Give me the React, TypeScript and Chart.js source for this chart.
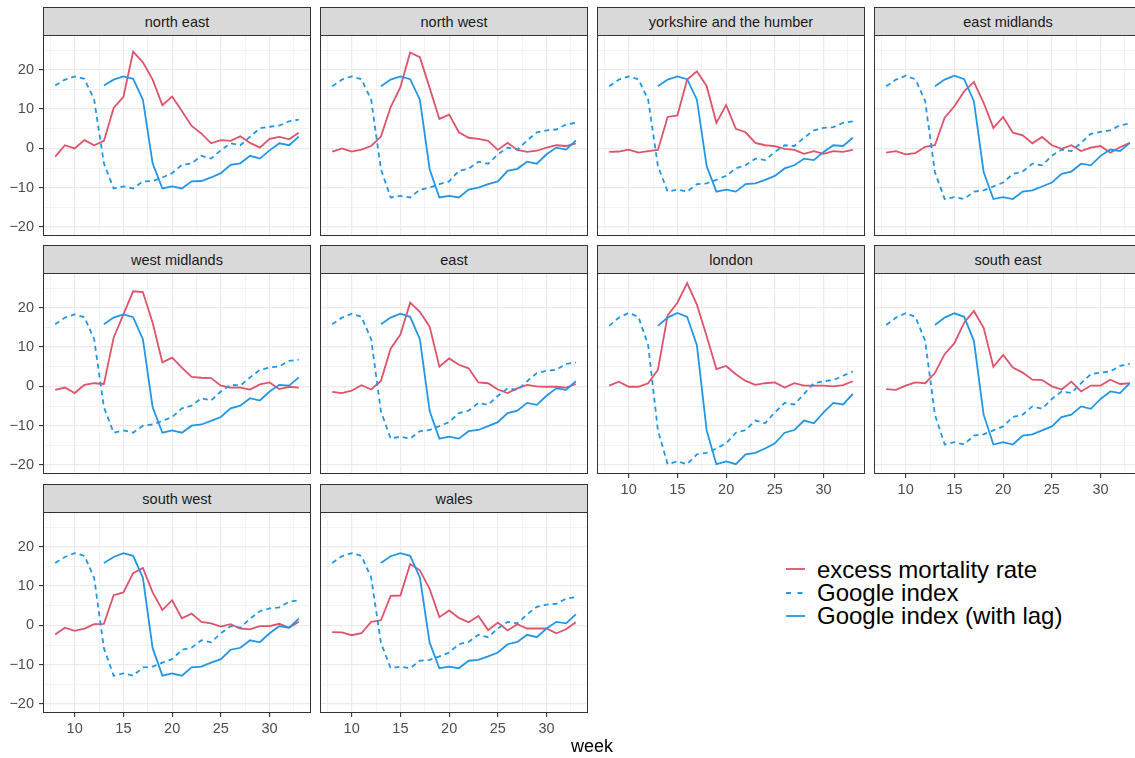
import React, { useEffect, useRef } from "react";
import { Chart, registerables } from "chart.js";

Chart.register(...registerables);

// ---------- data ----------
const WEEKS = [8, 9, 10, 11, 12, 13, 14, 15, 16, 17, 18, 19, 20, 21, 22, 23, 24, 25, 26, 27, 28, 29, 30, 31, 32, 33];
const LAG_WEEKS = [13, 14, 15, 16, 17, 18, 19, 20, 21, 22, 23, 24, 25, 26, 27, 28, 29, 30, 31, 32, 33];

const REGIONS = [
  "north east",
  "north west",
  "yorkshire and the humber",
  "east midlands",
  "west midlands",
  "east",
  "london",
  "south east",
  "south west",
  "wales",
];

const SERIES_NAMES = ["excess mortality rate", "Google index", "Google index (with lag)"];

const EXCESS_NORTH_EAST = [-2.1, 0.8, 0, 2.1, 0.8, 1.9, 10.3, 13.1, 24.6, 21.9, 17.5, 11.0, 13.2, 9.5, 5.7, 3.8, 1.3, 2.1, 1.9, 3.1, 1.4, 0.2, 2.4, 2.9, 2.3, 4.0];
const GOOGLE_NORTH_EAST = [16.0, 17.5, 18.3, 17.7, 12.4, -3.8, -10.2, -9.7, -10.2, -8.4, -8.3, -7.4, -6.3, -4.2, -3.8, -1.9, -2.6, -0.5, 1.3, 0.8, 3.0, 5.1, 5.5, 5.8, 6.9, 7.3];
const LAG_NORTH_EAST = [16.0, 17.5, 18.3, 17.7, 12.4, -3.8, -10.2, -9.7, -10.2, -8.4, -8.3, -7.4, -6.3, -4.2, -3.8, -1.9, -2.6, -0.5, 1.3, 0.8, 3.0];

const EXCESS_NORTH_WEST = [-0.8, 0, -0.8, -0.3, 0.6, 3.0, 10.5, 15.6, 24.4, 23.2, 15.4, 7.5, 8.6, 4.1, 2.7, 2.4, 1.9, -0.4, 1.4, -0.4, -0.9, -0.6, 0.2, 0.8, 0.6, 1.3];
const GOOGLE_NORTH_WEST = [15.8, 17.5, 18.3, 17.6, 12.4, -5.3, -12.5, -12.1, -12.5, -10.5, -10.0, -9.1, -8.4, -5.7, -5.2, -3.4, -3.9, -1.5, 0.2, -0.3, 2.0, 4.1, 4.6, 4.8, 6.1, 6.5];
const LAG_NORTH_WEST = [15.8, 17.5, 18.3, 17.6, 12.4, -5.3, -12.5, -12.1, -12.5, -10.5, -10.0, -9.1, -8.4, -5.7, -5.2, -3.4, -3.9, -1.5, 0.2, -0.3, 2.0];

const EXCESS_YORKSHIRE = [-0.9, -0.8, -0.3, -1.1, -0.7, -0.4, 8.0, 8.4, 17.5, 19.6, 15.9, 6.5, 11.0, 5.0, 4.1, 1.4, 0.8, 0.6, -0.1, -0.4, -1.4, -0.7, -1.4, -0.7, -0.9, -0.4];
const GOOGLE_YORKSHIRE = [15.8, 17.5, 18.3, 17.6, 12.4, -4.5, -11.0, -10.5, -11.0, -9.1, -8.9, -8.0, -7.0, -5.1, -4.3, -2.6, -3.0, -0.9, 0.8, 0.6, 2.7, 4.6, 5.2, 5.4, 6.5, 6.9];
const LAG_YORKSHIRE = [15.8, 17.5, 18.3, 17.6, 12.4, -4.5, -11.0, -10.5, -11.0, -9.1, -8.9, -8.0, -7.0, -5.1, -4.3, -2.6, -3.0, -0.9, 0.8, 0.6, 2.7];

const EXCESS_EAST_MIDLANDS = [-1.1, -0.7, -1.5, -1.2, 0.4, 0.8, 7.8, 10.7, 14.5, 16.9, 11.6, 5.2, 8.0, 4.0, 3.3, 1.3, 2.9, 0.8, -0.1, 0.8, -0.7, 0.2, 0.6, -1.1, 0.3, 1.4];
const GOOGLE_EAST_MIDLANDS = [15.8, 17.5, 18.5, 17.6, 12.0, -6.0, -12.9, -12.4, -12.9, -11.0, -10.7, -9.7, -8.7, -6.5, -5.9, -3.9, -4.3, -1.9, -0.3, -0.7, 1.4, 3.7, 4.2, 4.6, 5.9, 6.3];
const LAG_EAST_MIDLANDS = [15.8, 17.5, 18.5, 17.6, 12.0, -6.0, -12.9, -12.4, -12.9, -11.0, -10.7, -9.7, -8.7, -6.5, -5.9, -3.9, -4.3, -1.9, -0.3, -0.7, 1.4];

const EXCESS_WEST_MIDLANDS = [-0.9, -0.3, -1.7, 0.4, 0.8, 0.6, 12.4, 18.3, 24.2, 24.0, 16.2, 6.1, 7.3, 4.8, 2.4, 2.2, 2.1, 0.2, -0.3, -0.3, -0.8, 0.5, 1.0, -0.7, -0.1, -0.3];
const GOOGLE_WEST_MIDLANDS = [15.8, 17.5, 18.3, 17.6, 12.0, -5.3, -11.8, -11.2, -11.8, -10.0, -9.7, -8.8, -7.8, -5.6, -4.9, -3.0, -3.6, -1.3, 0.4, 0.2, 2.3, 4.2, 4.8, 5.1, 6.5, 6.8];
const LAG_WEST_MIDLANDS = [15.8, 17.5, 18.3, 17.6, 12.0, -5.3, -11.8, -11.2, -11.8, -10.0, -9.7, -8.8, -7.8, -5.6, -4.9, -3.0, -3.6, -1.3, 0.4, 0.2, 2.3];

const EXCESS_EAST = [-1.4, -1.7, -1.1, 0.3, -0.8, 1.4, 9.6, 13.2, 21.3, 19.0, 15.2, 5.0, 7.1, 5.5, 4.6, 1.0, 0.8, -0.8, -1.7, -0.5, 0.4, 0, -0.1, -0.1, -0.3, 0.6];
const GOOGLE_EAST = [15.8, 17.5, 18.5, 17.7, 12.0, -6.3, -13.3, -12.8, -13.3, -11.4, -11.1, -10.1, -9.1, -6.8, -6.2, -4.2, -4.7, -2.4, -0.5, -0.9, 1.3, 3.4, 4.0, 4.2, 5.7, 6.1];
const LAG_EAST = [15.8, 17.5, 18.5, 17.7, 12.0, -6.3, -13.3, -12.8, -13.3, -11.4, -11.1, -10.1, -9.1, -6.8, -6.2, -4.2, -4.7, -2.4, -0.5, -0.9, 1.3];

const EXCESS_LONDON = [0.2, 1.2, -0.1, -0.1, 0.8, 4.2, 18.1, 21.3, 26.3, 20.8, 12.8, 4.4, 5.2, 3.1, 1.4, 0.4, 0.8, 1.0, -0.3, 0.8, 0.2, 0.2, 0.2, 0, 0.3, 1.3];
const GOOGLE_LONDON = [15.4, 17.5, 18.7, 17.7, 10.5, -11.2, -19.8, -19.1, -19.8, -17.3, -16.9, -15.8, -14.5, -11.8, -11.1, -8.7, -9.4, -6.6, -4.2, -4.6, -1.9, 0.8, 1.3, 1.6, 2.7, 3.8];
const LAG_LONDON = [15.4, 17.5, 18.7, 17.7, 10.5, -11.2, -19.8, -19.1, -19.8, -17.3, -16.9, -15.8, -14.5, -11.8, -11.1, -8.7, -9.4, -6.6, -4.2, -4.6, -1.9];

const EXCESS_SOUTH_EAST = [-0.7, -0.9, 0.2, 1.0, 0.8, 3.4, 8.2, 11.0, 16.2, 19.2, 14.9, 5.0, 8.0, 4.8, 3.5, 1.7, 1.6, 0, -0.8, 1.2, -1.3, 0.2, 0.2, 1.7, 0.6, 0.8];
const GOOGLE_SOUTH_EAST = [15.6, 17.5, 18.6, 17.7, 11.6, -7.2, -14.8, -14.2, -14.8, -12.5, -12.2, -11.2, -10.2, -7.8, -7.2, -5.1, -5.7, -3.2, -1.3, -1.7, 0.8, 3.1, 3.5, 3.8, 5.2, 5.7];
const LAG_SOUTH_EAST = [15.6, 17.5, 18.6, 17.7, 11.6, -7.2, -14.8, -14.2, -14.8, -12.5, -12.2, -11.2, -10.2, -7.8, -7.2, -5.1, -5.7, -3.2, -1.3, -1.7, 0.8];

const EXCESS_SOUTH_WEST = [-2.3, -0.6, -1.4, -0.8, 0.3, 0.4, 7.7, 8.4, 13.3, 14.6, 8.4, 3.9, 6.4, 1.8, 3.0, 0.9, 0.5, -0.3, 0.3, -0.8, -1.0, -0.2, -0.2, 0.4, -0.6, 0.9];
const GOOGLE_SOUTH_WEST = [15.9, 17.4, 18.4, 17.7, 12.1, -5.8, -12.8, -12.2, -12.8, -10.7, -10.5, -9.5, -8.6, -6.2, -5.7, -3.8, -4.3, -2.0, -0.2, -0.6, 1.7, 3.6, 4.3, 4.6, 6.0, 6.4];
const LAG_SOUTH_WEST = [15.9, 17.4, 18.4, 17.7, 12.1, -5.8, -12.8, -12.2, -12.8, -10.7, -10.5, -9.5, -8.6, -6.2, -5.7, -3.8, -4.3, -2.0, -0.2, -0.6, 1.7];

const EXCESS_WALES = [-1.7, -1.8, -2.5, -2.0, 0.9, 1.3, 7.5, 7.6, 15.6, 14.0, 9.3, 2.1, 3.8, 1.9, 0.8, 2.4, -1.2, 0.7, -1.3, 0.3, -0.8, -0.8, -0.8, -2.0, -1.0, 0.8];
const GOOGLE_WALES = [15.9, 17.6, 18.4, 17.7, 12.2, -4.4, -10.9, -10.5, -10.9, -9.0, -8.8, -7.9, -6.9, -4.8, -4.2, -2.4, -3.0, -0.8, 0.9, 0.5, 2.8, 4.7, 5.3, 5.5, 6.8, 7.2];
const LAG_WALES = [15.9, 17.6, 18.4, 17.7, 12.2, -4.4, -10.9, -10.5, -10.9, -9.0, -8.8, -7.9, -6.9, -4.8, -4.2, -2.4, -3.0, -0.8, 0.9, 0.5, 2.8];

const X_BREAKS = [7.5, 10, 12.5, 15, 17.5, 20, 22.5, 25, 27.5, 30, 32.5];
const X_MAJOR = [10, 15, 20, 25, 30];
const X_TICK_LABELS = ["10", "15", "20", "25", "30"];
const Y_BREAKS = [-20, -15, -10, -5, 0, 5, 10, 15, 20, 25];
const Y_MAJOR = [-20, -10, 0, 10, 20];
const Y_TICK_LABELS = ["\u221220", "\u221210", "0", "10", "20"];

const X_TITLE = "week";

const PANELS = [
  { title: REGIONS[0], excess: EXCESS_NORTH_EAST, google: GOOGLE_NORTH_EAST, lag: LAG_NORTH_EAST },
  { title: REGIONS[1], excess: EXCESS_NORTH_WEST, google: GOOGLE_NORTH_WEST, lag: LAG_NORTH_WEST },
  { title: REGIONS[2], excess: EXCESS_YORKSHIRE, google: GOOGLE_YORKSHIRE, lag: LAG_YORKSHIRE },
  { title: REGIONS[3], excess: EXCESS_EAST_MIDLANDS, google: GOOGLE_EAST_MIDLANDS, lag: LAG_EAST_MIDLANDS },
  { title: REGIONS[4], excess: EXCESS_WEST_MIDLANDS, google: GOOGLE_WEST_MIDLANDS, lag: LAG_WEST_MIDLANDS },
  { title: REGIONS[5], excess: EXCESS_EAST, google: GOOGLE_EAST, lag: LAG_EAST },
  { title: REGIONS[6], excess: EXCESS_LONDON, google: GOOGLE_LONDON, lag: LAG_LONDON },
  { title: REGIONS[7], excess: EXCESS_SOUTH_EAST, google: GOOGLE_SOUTH_EAST, lag: LAG_SOUTH_EAST },
  { title: REGIONS[8], excess: EXCESS_SOUTH_WEST, google: GOOGLE_SOUTH_WEST, lag: LAG_SOUTH_WEST },
  { title: REGIONS[9], excess: EXCESS_WALES, google: GOOGLE_WALES, lag: LAG_WALES },
];

// ---------- style / layout ----------
const FONT = "'Liberation Sans', Arial, Helvetica, sans-serif";
const RED = "#DF536B";
const BLUE = "#2297E6";
const GRID = "#EBEBEB";
const DARK = "#333333";
const TICK_TEXT = "#4D4D4D";
const PLOT_W = 268;
const PLOT_H = 200;
const STRIP_H = 29;
const COL_PITCH = 277;
const FIRST_COL = 43;
const STRIP_TOPS = [7, 245, 484];
const Y_AXIS_W = 43;
const X_AXIS_H = 32;
const TICK_FONT = 14.5;
const LINE_W = 1.8;

type PanelProps = {
  title: string;
  excess: number[];
  google: number[];
  lag: number[];
  index: number;
};

function Panel({ title, excess, google, lag, index }: PanelProps) {
  const ref = useRef<HTMLCanvasElement | null>(null);
  const col = index % 4;
  const row = Math.floor(index / 4);
  const showY = col === 0;
  const showX = row === 2 || (row === 1 && col >= 2);
  const plotLeft = FIRST_COL + col * COL_PITCH;
  const stripTop = STRIP_TOPS[row];
  const plotTop = stripTop + STRIP_H;
  const axisW = showY ? Y_AXIS_W : 0;
  const axisH = showX ? X_AXIS_H : 0;
  const cw = PLOT_W + axisW;
  const ch = PLOT_H + axisH;

  useEffect(() => {
    const canvas = ref.current;
    if (!canvas) return;
    const isXMajor = (v: number) => X_MAJOR.indexOf(v) >= 0;
    const isYMajor = (v: number) => Y_MAJOR.indexOf(v) >= 0;
    const chart = new Chart(canvas, {
      type: "line",
      data: {
        datasets: [
          {
            label: SERIES_NAMES[2],
            data: LAG_WEEKS.map((w, i) => ({ x: w, y: lag[i] })),
            borderColor: BLUE,
            backgroundColor: BLUE,
            borderWidth: LINE_W,
            pointRadius: 0,
            tension: 0,
            fill: false,
          },
          {
            label: SERIES_NAMES[1],
            data: WEEKS.map((w, i) => ({ x: w, y: google[i] })),
            borderColor: BLUE,
            backgroundColor: BLUE,
            borderWidth: LINE_W,
            borderDash: [5, 4],
            pointRadius: 0,
            tension: 0,
            fill: false,
          },
          {
            label: SERIES_NAMES[0],
            data: WEEKS.map((w, i) => ({ x: w, y: excess[i] })),
            borderColor: RED,
            backgroundColor: RED,
            borderWidth: LINE_W,
            pointRadius: 0,
            tension: 0,
            fill: false,
          },
        ],
      },
      options: {
        animation: false,
        responsive: false,
        maintainAspectRatio: false,
        events: [],
        layout: { padding: 0 },
        plugins: { legend: { display: false }, tooltip: { enabled: false }, title: { display: false } },
        scales: {
          x: {
            type: "linear",
            min: 6.75,
            max: 34.25,
            afterBuildTicks: (s: any) => {
              s.ticks = X_BREAKS.map((v) => ({ value: v }));
            },
            afterFit: (s: any) => {
              s.height = axisH;
              s.paddingLeft = 0;
              s.paddingRight = 0;
              s.paddingTop = 0;
              s.paddingBottom = 0;
            },
            ticks: {
              display: showX,
              autoSkip: false,
              maxRotation: 0,
              minRotation: 0,
              padding: 3,
              color: TICK_TEXT,
              font: { family: FONT, size: TICK_FONT },
              callback: (v: any) => {
                const k = X_MAJOR.indexOf(Number(v));
                return k >= 0 ? X_TICK_LABELS[k] : "";
              },
            },
            grid: {
              color: GRID,
              lineWidth: (c: any) => (c.tick && isXMajor(c.tick.value) ? 1.2 : 0.6),
              drawTicks: showX,
              tickLength: 4,
              tickWidth: 1.1,
              tickColor: (c: any) => (c.tick && isXMajor(c.tick.value) ? DARK : "rgba(0,0,0,0)"),
            },
            border: { display: false },
          },
          y: {
            type: "linear",
            min: -22.3,
            max: 28.6,
            afterBuildTicks: (s: any) => {
              s.ticks = Y_BREAKS.map((v) => ({ value: v }));
            },
            afterFit: (s: any) => {
              s.width = axisW;
              s.paddingLeft = 0;
              s.paddingRight = 0;
              s.paddingTop = 0;
              s.paddingBottom = 0;
            },
            ticks: {
              display: showY,
              autoSkip: false,
              padding: 5,
              color: TICK_TEXT,
              font: { family: FONT, size: TICK_FONT },
              callback: (v: any) => {
                const k = Y_MAJOR.indexOf(Number(v));
                return k >= 0 ? Y_TICK_LABELS[k] : "";
              },
            },
            grid: {
              color: GRID,
              lineWidth: (c: any) => (c.tick && isYMajor(c.tick.value) ? 1.2 : 0.6),
              drawTicks: showY,
              tickLength: 4,
              tickWidth: 1.1,
              tickColor: (c: any) => (c.tick && isYMajor(c.tick.value) ? DARK : "rgba(0,0,0,0)"),
            },
            border: { display: false },
          },
        },
      } as any,
    });
    return () => chart.destroy();
  }, []);

  return (
    <>
      <canvas
        ref={ref}
        width={cw}
        height={ch}
        style={{ position: "absolute", left: plotLeft - axisW, top: plotTop, width: cw, height: ch, display: "block" }}
      />
      <div
        style={{
          position: "absolute",
          left: plotLeft,
          top: stripTop,
          width: PLOT_W,
          height: STRIP_H + PLOT_H,
          border: `1px solid ${DARK}`,
          boxSizing: "border-box",
          pointerEvents: "none",
        }}
      >
        <div
          style={{
            height: STRIP_H - 1,
            background: "#D9D9D9",
            borderBottom: `1px solid ${DARK}`,
            boxSizing: "border-box",
            display: "flex",
            alignItems: "center",
            justifyContent: "center",
            fontFamily: FONT,
            fontSize: TICK_FONT,
            color: "#1A1A1A",
            whiteSpace: "nowrap",
          }}
        >
          {title}
        </div>
      </div>
    </>
  );
}

function LegendKey({ color, dashed }: { color: string; dashed: boolean }) {
  return (
    <svg width={19} height={6} style={{ display: "block" }}>
      <line x1={0} y1={3} x2={19} y2={3} stroke={color} strokeWidth={LINE_W} strokeDasharray={dashed ? "5 6.5" : undefined} />
    </svg>
  );
}

export default function App() {
  const legendItems = [
    { name: SERIES_NAMES[0], color: RED, dashed: false },
    { name: SERIES_NAMES[1], color: BLUE, dashed: true },
    { name: SERIES_NAMES[2], color: BLUE, dashed: false },
  ];
  return (
    <div
      style={{
        position: "fixed",
        left: 0,
        top: 0,
        width: 1135,
        height: 758,
        overflow: "hidden",
        background: "#FFFFFF",
      }}
    >
      {PANELS.map((p, i) => (
        <Panel key={p.title} index={i} title={p.title} excess={p.excess} google={p.google} lag={p.lag} />
      ))}
      <div
        style={{
          position: "absolute",
          left: 592,
          top: 736,
          transform: "translateX(-50%)",
          fontFamily: FONT,
          fontSize: 18,
          lineHeight: "20px",
          color: "#000000",
          whiteSpace: "nowrap",
        }}
      >
        {X_TITLE}
      </div>
      <div style={{ position: "absolute", left: 786, top: 557.6 }}>
        {legendItems.map((it) => (
          <div key={it.name} style={{ display: "flex", alignItems: "center", height: 23.3 }}>
            <LegendKey color={it.color} dashed={it.dashed} />
            <span
              style={{
                marginLeft: 12,
                fontFamily: FONT,
                fontSize: 24,
                lineHeight: "23.3px",
                color: "#000000",
                whiteSpace: "nowrap",
              }}
            >
              {it.name}
            </span>
          </div>
        ))}
      </div>
    </div>
  );
}
